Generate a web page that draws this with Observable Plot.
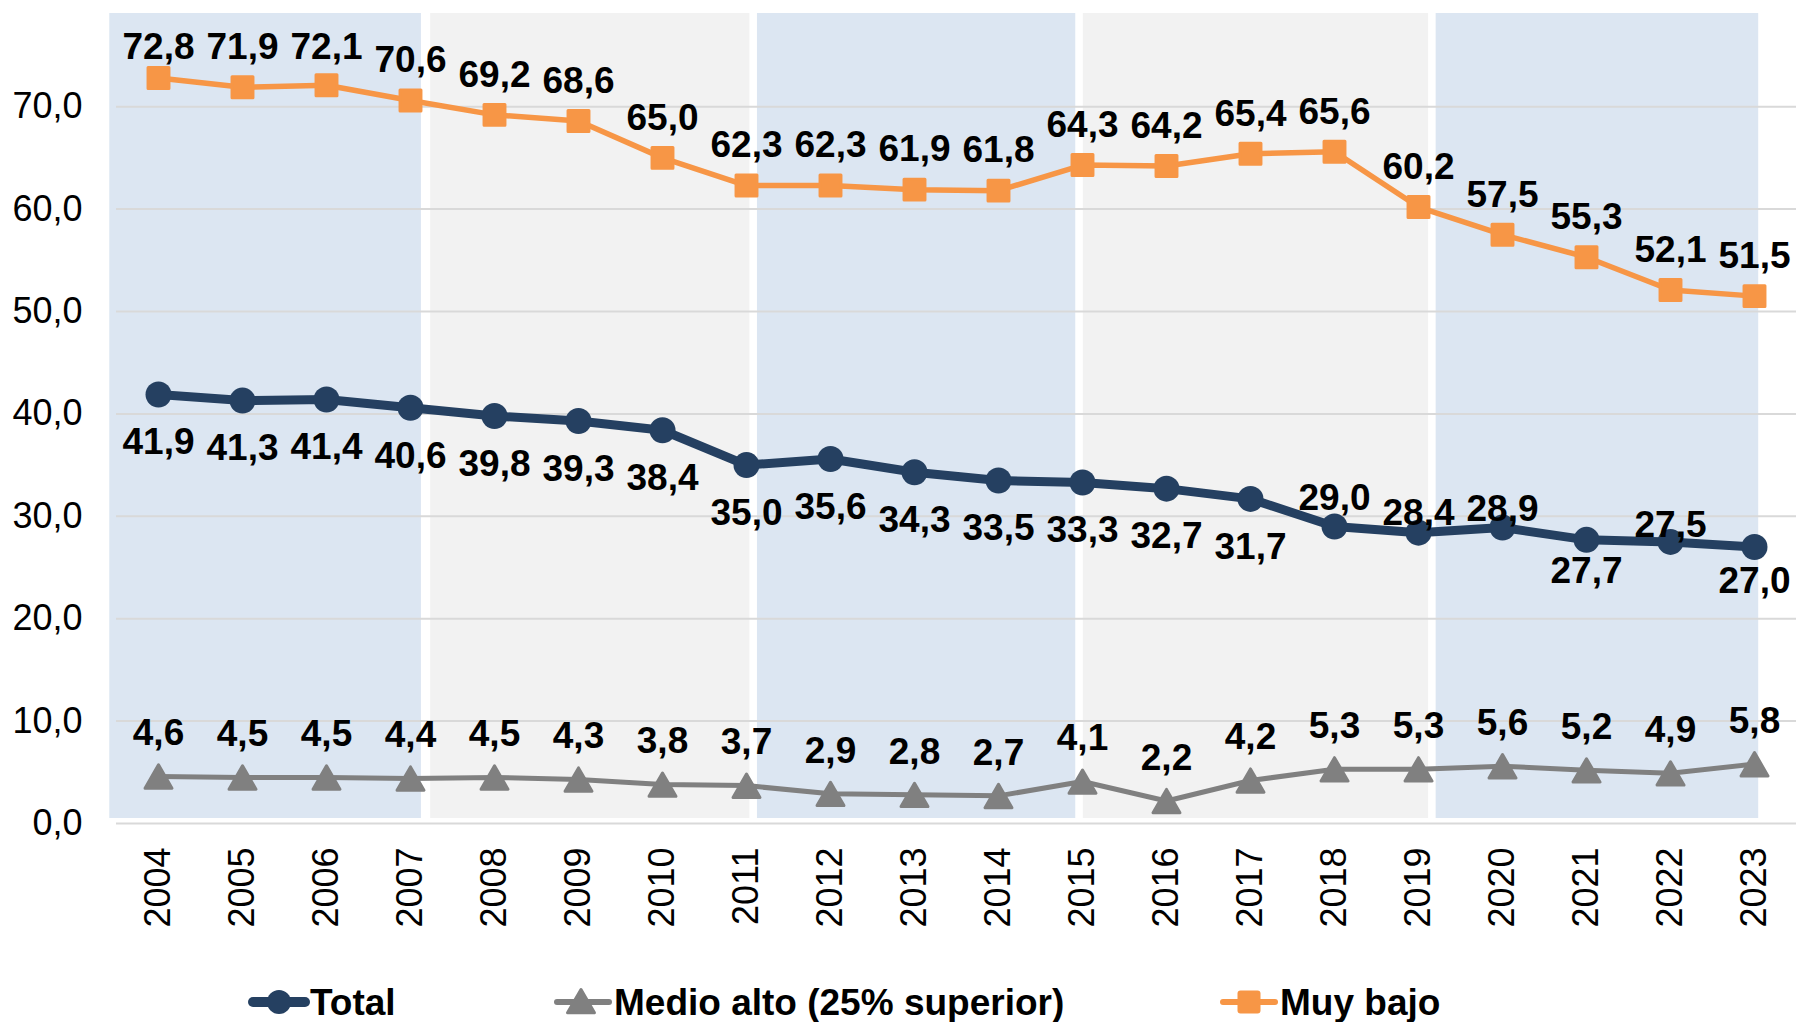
<!DOCTYPE html>
<html>
<head>
<meta charset="utf-8">
<script src="https://cdn.jsdelivr.net/npm/d3@7"></script>
<script src="https://cdn.jsdelivr.net/npm/@observablehq/plot@0.6"></script>
<style>
  html, body { margin: 0; padding: 0; background: #fff; overflow: hidden; }
  #chart { width: 1796px; }
  #chart svg { display: block; max-width: none; }
</style>
</head>
<body>
<div id="chart"></div>
<script>
// ---------- data ----------
const years = [2004, 2005, 2006, 2007, 2008, 2009, 2010, 2011, 2012, 2013,
               2014, 2015, 2016, 2017, 2018, 2019, 2020, 2021, 2022, 2023];
const total = [41.9, 41.3, 41.4, 40.6, 39.8, 39.3, 38.4, 35.0, 35.6, 34.3,
               33.5, 33.3, 32.7, 31.7, 29.0, 28.4, 28.9, 27.7, 27.5, 27.0];
const medioAlto = [4.6, 4.5, 4.5, 4.4, 4.5, 4.3, 3.8, 3.7, 2.9, 2.8,
                   2.7, 4.1, 2.2, 4.2, 5.3, 5.3, 5.6, 5.2, 4.9, 5.8];
const muyBajo = [72.8, 71.9, 72.1, 70.6, 69.2, 68.6, 65.0, 62.3, 62.3, 61.9,
                 61.8, 64.3, 64.2, 65.4, 65.6, 60.2, 57.5, 55.3, 52.1, 51.5];
const yTicks = [0, 10, 20, 30, 40, 50, 60, 70];
// background period panels (in year units)
const periodStart = [2003.42, 2007.24, 2011.13, 2015.01, 2019.21];
const periodEnd   = [2007.13, 2011.04, 2014.92, 2019.12, 2023.05];
const seriesNames = ["Total", "Medio alto (25% superior)", "Muy bajo"];

// ---------- style ----------
const FONT = '"Liberation Sans", Arial, Helvetica, sans-serif';
const C_TOTAL = "#254061", C_MEDIO = "#808080", C_MUY = "#F79646";
const C_BLUE = "#DCE6F2", C_GRAY = "#F2F2F2";
// vertical label offsets (px) for the Total series
const totalLabelDy = [48, 48, 48, 48, 48, 48, 48, 48, 48, 48,
                      48, 48, 48, 48, -28, -20, -18, 31, -17, 34];

const fmt = v => v.toFixed(1).replace(".", ",");
const rows = vals => years.map((year, i) => ({year, value: vals[i], i}));
const totalRows = rows(total), medioRows = rows(medioAlto), muyRows = rows(muyBajo);

const periods = periodStart.map((s, i) => ({start: s, end: periodEnd[i], i}));
const bluePeriods = periods.filter(p => p.i % 2 === 0);
const grayPeriods = periods.filter(p => p.i % 2 === 1);

function panelMarks(data, fill, label) {
  return [
    Plot.rect(data, {x1: "start", x2: "end", fill: "#FFFFFF", rx: 4,
      insetLeft: -7, insetRight: -7, insetTop: -7, insetBottom: -2, ariaLabel: label + "-frame"}),
    Plot.rect(data, {x1: "start", x2: "end", fill, insetBottom: 5, ariaLabel: label + "-fill"})
  ];
}

const labelStyle = {fontSize: 37, fontWeight: "bold", fill: "#000", fontFamily: FONT};

const totalLabelMarks = [...new Set(totalLabelDy)].map(dy =>
  Plot.text(totalRows.filter(d => totalLabelDy[d.i] === dy), {
    x: "year", y: "value", text: d => fmt(d.value), dy, ...labelStyle
  })
);

const chart = Plot.plot({
  width: 1796,
  height: 960,
  marginLeft: 116,
  marginRight: 0,
  marginTop: 13,
  marginBottom: 137,
  style: {fontFamily: FONT, fontSize: "36px", color: "#000", background: "#fff"},
  x: {type: "linear", domain: [2003.5, 2023.5], axis: null},
  y: {domain: [0, 79.1], axis: null},
  marks: [
    ...panelMarks(bluePeriods, C_BLUE, "blue"),
    ...panelMarks(grayPeriods, C_GRAY, "gray"),
    Plot.ruleY(yTicks, {stroke: "#D9D9D9", strokeWidth: 2}),
    Plot.axisY({ticks: yTicks, tickFormat: fmt, tickSize: 0, tickPadding: 34,
      fontSize: 36, fontFamily: FONT, label: null}),
    Plot.text(years, {x: d => d, text: d => String(d), frameAnchor: "bottom",
      rotate: -90, textAnchor: "end", lineAnchor: "middle", dy: 24,
      fontSize: 36, fontFamily: FONT, fill: "#000"}),
    // Medio alto
    Plot.line(medioRows, {x: "year", y: "value", stroke: C_MEDIO, strokeWidth: 5}),
    Plot.dot(medioRows, {x: "year", y: "value", symbol: "triangle", r: 10, dy: 4,
      fill: C_MEDIO, stroke: C_MEDIO, strokeWidth: 3, strokeLinejoin: "round"}),
    // Muy bajo
    Plot.line(muyRows, {x: "year", y: "value", stroke: C_MUY, strokeWidth: 5.5}),
    Plot.dot(muyRows, {x: "year", y: "value", symbol: "square", r: 11.8,
      fill: C_MUY, stroke: C_MUY, strokeWidth: 3, strokeLinejoin: "round"}),
    // Total
    Plot.line(totalRows, {x: "year", y: "value", stroke: C_TOTAL, strokeWidth: 9}),
    Plot.dot(totalRows, {x: "year", y: "value", r: 13, fill: C_TOTAL}),
    // labels
    Plot.text(medioRows, {x: "year", y: "value", text: d => fmt(d.value), dy: -43, ...labelStyle}),
    Plot.text(muyRows, {x: "year", y: d => Math.min(d.value, 71.9), text: d => fmt(d.value), dy: -40, ...labelStyle}),
    ...totalLabelMarks
  ]
});

// drop shadow for the panels
const ns = "http://www.w3.org/2000/svg";
const defs = document.createElementNS(ns, "defs");
defs.innerHTML = '<filter id="panelShadow" x="-3%" y="-3%" width="106%" height="106%">' +
  '<feDropShadow dx="0" dy="2" stdDeviation="2.5" flood-color="#000" flood-opacity="0.32"/></filter>';
chart.insertBefore(defs, chart.firstChild);
chart.querySelectorAll('g[aria-label$="-frame"]').forEach(g => g.setAttribute("filter", "url(#panelShadow)"));

document.getElementById("chart").appendChild(chart);

// ---------- legend (below the plot) ----------
const legendItems = [
  {name: seriesNames[0], color: C_TOTAL, shape: "circle", x: 250, lw: 10},
  {name: seriesNames[1], color: C_MEDIO, shape: "triangle", x: 554, lw: 6},
  {name: seriesNames[2], color: C_MUY, shape: "square", x: 1220, lw: 6}
];
const leg = d3.create("svg").attr("width", 1796).attr("height", 62)
  .style("display", "block").style("font-family", FONT);
const cy = 42;
for (const it of legendItems) {
  const g = leg.append("g").attr("transform", `translate(${it.x},0)`);
  g.append("line").attr("x1", 3).attr("x2", 55).attr("y1", cy).attr("y2", cy)
    .attr("stroke", it.color).attr("stroke-width", it.lw).attr("stroke-linecap", "round");
  if (it.shape === "circle") {
    g.append("circle").attr("cx", 29).attr("cy", cy).attr("r", 12).attr("fill", it.color);
  } else if (it.shape === "square") {
    g.append("rect").attr("x", 29 - 11.5).attr("y", cy - 11.5).attr("width", 23).attr("height", 23)
      .attr("rx", 3).attr("fill", it.color);
  } else {
    g.append("path").attr("d", d3.symbol(d3.symbolTriangle, Math.PI * 100)())
      .attr("transform", `translate(27,${cy + 3})`)
      .attr("fill", it.color).attr("stroke", it.color).attr("stroke-width", 3)
      .attr("stroke-linejoin", "round");
  }
  g.append("text").attr("x", 60).attr("y", 55).attr("font-size", 37)
    .attr("font-weight", "bold").attr("fill", "#000").text(it.name);
}
document.getElementById("chart").appendChild(leg.node());
</script>
</body>
</html>
